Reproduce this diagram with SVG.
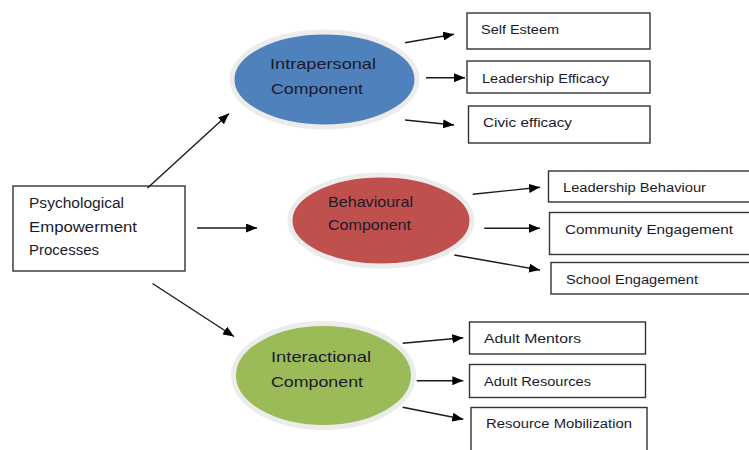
<svg xmlns="http://www.w3.org/2000/svg" width="749" height="450" viewBox="0 0 749 450">
  <style>
    .box { fill: #ffffff; stroke: #333333; stroke-width: 1.4; }
    .oval { stroke: #ececec; stroke-width: 5; }
    .lbl { font-family: "Liberation Sans", Arial, sans-serif; fill: #1a1a2a; }
    .big { font-size: 15px; }
    .mid { font-size: 14px; }
    .small { font-size: 12.5px; }
    .conn line { stroke: #1a1a1a; stroke-width: 1.4; marker-end: url(#arrow); }
  </style>
  <defs>
    <marker id="arrow" markerUnits="userSpaceOnUse" markerWidth="11" markerHeight="9" refX="11" refY="4.5" orient="auto">
      <path d="M0,0 L11,4.5 L0,9 z" fill="#000000"/>
    </marker>
  </defs>

  <rect width="749" height="450" fill="#ffffff"/>

  <!-- root node -->
  <g id="root">
    <rect class="box" x="13" y="186" width="172" height="85"/>
    <text class="lbl mid" x="29" y="208" textLength="95" lengthAdjust="spacingAndGlyphs">Psychological</text>
    <text class="lbl mid" x="29" y="232" textLength="108" lengthAdjust="spacingAndGlyphs">Empowerment</text>
    <text class="lbl mid" x="29" y="255" textLength="70" lengthAdjust="spacingAndGlyphs">Processes</text>
  </g>

  <!-- component ovals -->
  <g id="intrapersonal">
    <ellipse class="oval" cx="324.5" cy="79.5" rx="92.5" ry="47.5" fill="#4f81bd"/>
    <text class="lbl big" x="270" y="69" textLength="106" lengthAdjust="spacingAndGlyphs">Intrapersonal</text>
    <text class="lbl big" x="271" y="94" textLength="92" lengthAdjust="spacingAndGlyphs">Component</text>
  </g>
  <g id="behavioural">
    <ellipse class="oval" cx="381" cy="220.5" rx="91" ry="45.5" fill="#c0504d"/>
    <text class="lbl big" x="328" y="207" textLength="85" lengthAdjust="spacingAndGlyphs">Behavioural</text>
    <text class="lbl big" x="328" y="230" textLength="83" lengthAdjust="spacingAndGlyphs">Component</text>
  </g>
  <g id="interactional">
    <ellipse class="oval" cx="323.5" cy="375.5" rx="90" ry="52" fill="#9bbb59"/>
    <text class="lbl big" x="271" y="362" textLength="100" lengthAdjust="spacingAndGlyphs">Interactional</text>
    <text class="lbl big" x="271" y="387" textLength="92" lengthAdjust="spacingAndGlyphs">Component</text>
  </g>

  <!-- outcome boxes -->
  <g id="self-esteem">
    <rect class="box" x="467" y="13" width="183" height="36"/>
    <text class="lbl small" x="481" y="34" textLength="78" lengthAdjust="spacingAndGlyphs">Self Esteem</text>
  </g>
  <g id="leadership-efficacy">
    <rect class="box" x="467" y="61" width="183" height="32"/>
    <text class="lbl small" x="482" y="82.5" textLength="127" lengthAdjust="spacingAndGlyphs">Leadership Efficacy</text>
  </g>
  <g id="civic-efficacy">
    <rect class="box" x="468.5" y="106" width="181.5" height="37"/>
    <text class="lbl small" x="483" y="127" textLength="89" lengthAdjust="spacingAndGlyphs">Civic efficacy</text>
  </g>
  <g id="leadership-behaviour">
    <rect class="box" x="548.5" y="171" width="210" height="31"/>
    <text class="lbl small" x="563" y="192" textLength="143" lengthAdjust="spacingAndGlyphs">Leadership Behaviour</text>
  </g>
  <g id="community-engagement">
    <rect class="box" x="549.5" y="212.5" width="210" height="42"/>
    <text class="lbl small" x="565" y="234" textLength="168" lengthAdjust="spacingAndGlyphs">Community Engagement</text>
  </g>
  <g id="school-engagement">
    <rect class="box" x="551" y="262.5" width="210" height="31.5"/>
    <text class="lbl small" x="566" y="283.5" textLength="132" lengthAdjust="spacingAndGlyphs">School Engagement</text>
  </g>
  <g id="adult-mentors">
    <rect class="box" x="469.5" y="322" width="176" height="32"/>
    <text class="lbl small" x="484" y="342.5" textLength="97" lengthAdjust="spacingAndGlyphs">Adult Mentors</text>
  </g>
  <g id="adult-resources">
    <rect class="box" x="469.5" y="364.5" width="176" height="33"/>
    <text class="lbl small" x="484" y="385.5" textLength="107" lengthAdjust="spacingAndGlyphs">Adult Resources</text>
  </g>
  <g id="resource-mobilization">
    <rect class="box" x="471" y="407.5" width="176" height="60"/>
    <text class="lbl small" x="486" y="428" textLength="146" lengthAdjust="spacingAndGlyphs">Resource Mobilization</text>
  </g>

  <!-- connectors -->
  <g class="conn">
    <line x1="147.5" y1="188" x2="229" y2="113.5"/>
    <line x1="197" y1="228" x2="257" y2="228"/>
    <line x1="152.5" y1="283.5" x2="234" y2="336.5"/>

    <line x1="405" y1="42.7" x2="454" y2="34.3"/>
    <line x1="426" y1="77.7" x2="465" y2="77.7"/>
    <line x1="405" y1="120" x2="454" y2="125"/>

    <line x1="472.7" y1="194.3" x2="540" y2="187.3"/>
    <line x1="484.3" y1="228.3" x2="540" y2="228.3"/>
    <line x1="454.3" y1="255" x2="540" y2="270"/>

    <line x1="402.7" y1="343.3" x2="463.3" y2="337.7"/>
    <line x1="416.7" y1="380.7" x2="463.3" y2="380.7"/>
    <line x1="402.7" y1="407.3" x2="463.3" y2="419.3"/>
  </g>
</svg>
